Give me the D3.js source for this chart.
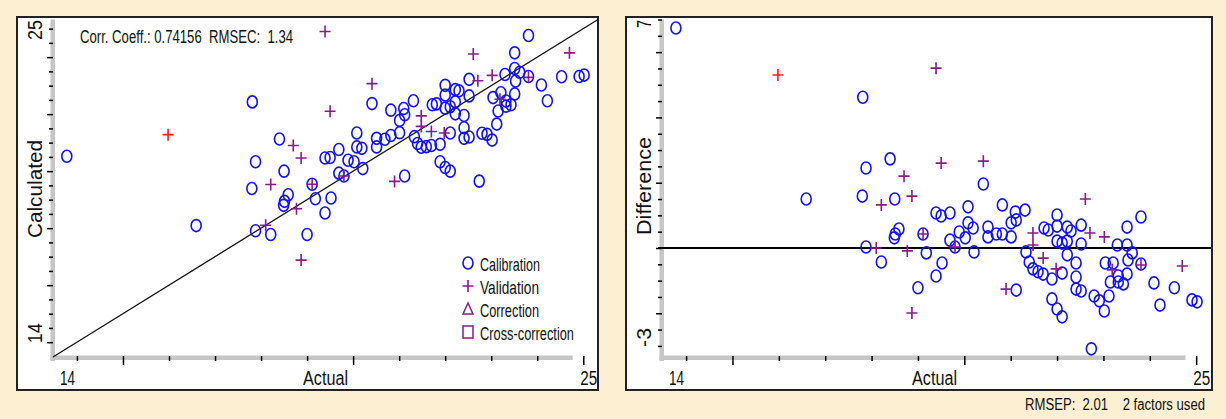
<!DOCTYPE html>
<html><head><meta charset="utf-8">
<script src="https://cdn.jsdelivr.net/npm/d3@7"></script>
<style>html,body{margin:0;padding:0;background:#FDF0D2;} svg{display:block} text{white-space:pre}</style>
</head><body><svg id="c" width="1226" height="419"></svg>
<script>
// ---------------- DATA ----------------
const calActual = [13.78,17.81,18.40,17.88,16.59,17.80,18.50,20.41,19.39,19.50,19.69,20.08,20.82,21.10,21.31,18.59,18.51,18.49,19.11,19.89,
  20.08,20.19,20.02,19.69,20.51,20.51,20.69,20.82,21.01,21.01,21.12,17.88,18.21,19.18,19.52,19.39,19.00,19.80,20.21,21.33,
  21.40,21.12,22.00,21.72,21.81,22.00,22.22,22.30,22.52,22.00,22.11,22.22,22.52,23.51,23.81,23.30,23.51,21.48,21.59,21.70,
  21.89,22.11,22.22,22.41,22.41,22.41,22.52,21.89,22.00,22.11,22.74,22.80,22.91,23.02,23.12,23.15,23.04,23.21,23.32,23.32,
  23.43,23.51,23.53,23.62,23.81,24.09,24.53,24.22,24.91,25.02];
const calCalculated = [20.52,22.43,21.13,20.33,18.09,19.39,20.00,22.37,20.46,20.48,20.76,21.34,22.14,22.20,22.47,19.17,18.94,18.80,19.54,20.38,
  20.85,20.80,20.33,19.93,21.15,20.85,21.12,21.25,21.35,21.78,21.98,17.91,17.78,19.03,19.06,18.53,17.78,19.83,20.09,21.21,
  20.97,19.83,23.01,22.33,22.36,22.67,22.86,22.82,23.22,22.21,22.26,22.43,22.64,24.15,24.76,23.39,23.60,20.84,20.86,20.90,
  20.94,21.34,22.01,21.95,21.52,21.15,21.20,20.33,20.13,20.00,19.65,21.33,21.29,21.09,21.65,22.11,22.58,22.75,22.46,22.28,
  22.33,22.71,23.16,23.47,23.32,23.02,23.31,22.47,23.32,23.37];
const calDifference = [6.74,4.62,2.73,2.45,1.50,1.59,1.50,1.96,1.07,0.98,1.07,1.26,1.32,1.10,1.16,0.58,0.43,0.31,0.43,0.49,
  0.77,0.61,0.31,0.24,0.64,0.34,0.43,0.43,0.34,0.77,0.86,0.03,-0.43,-0.15,-0.46,-0.86,-1.22,0.03,-0.12,-0.12,
  -0.43,-1.29,1.01,0.61,0.55,0.67,0.64,0.52,0.70,0.21,0.15,0.21,0.12,0.64,0.95,0.09,0.09,-0.64,-0.73,-0.80,
  -0.95,-0.77,-0.21,-0.46,-0.89,-1.26,-1.32,-1.56,-1.87,-2.11,-3.09,-1.47,-1.62,-1.93,-1.47,-1.04,-0.46,-0.46,-0.86,-1.04,
  -1.10,-0.80,-0.37,-0.15,-0.49,-1.07,-1.22,-1.75,-1.59,-1.65];

const valActual = [19.39,18.70,18.87,18.21,19.50,20.41,19.11,18.10,18.77,18.87,19.80,20.90,22.61,21.48,21.48,21.70,21.98,22.71,23.02,23.19,23.81,24.70];
const valCalculated = [24.90,20.90,20.46,19.53,22.10,23.07,19.54,18.10,18.68,16.88,19.83,19.64,24.11,21.94,21.57,21.39,21.34,23.17,23.36,22.52,23.29,24.15];
const valDifference = [5.51,2.20,1.59,1.32,2.60,2.66,0.43,0.00,-0.09,-1.99,0.03,-1.26,1.50,0.46,0.09,-0.31,-0.64,0.46,0.34,-0.67,-0.52,-0.55];

const outActual = [15.98];
const outCalculated = [21.28];
const outDifference = [5.30];

const legendLabels = ["Calibration","Validation","Correction","Cross-correction"];
const xTickValues = d3.range(14, 26, 1);
const xMajorTicks = [15, 20, 25];
const yLeftTickValues = d3.range(14, 25.001, 0.5);
const yLeftMajorTicks = [14, 16, 18, 20, 22, 24];
const yRightTickValues = d3.range(-3, 7.001, 0.5);
const yRightMajorTicks = [-2, 0, 2, 4, 6];
const xTickLabels = ["14", "25"];
const yLeftTickLabels = ["14", "25"];
const yRightTickLabels = ["-3", "7"];
const statsText = "Corr. Coeff.: 0.74156  RMSEC:  1.34";
const footerText = "RMSEP:  2.01    2 factors used";

// ---------------- DRAWING ----------------
const svg = d3.select("#c");
const FONT = "'Liberation Sans', Arial, sans-serif";
const BLUE = "#1010ff", PURPLE = "#8a1a8a", RED = "#ff1a1a";

svg.append("rect").attr("width",1226).attr("height",419).attr("fill","#FDF0D2");

function txt(g, s, x, y, len, size, anchor, rotate) {
  const t = g.append("text")
    .attr("font-family", FONT).attr("font-size", size).attr("fill", "#111")
    .attr("text-anchor", anchor || "start")
    .attr("xml:space", "preserve")
    .attr("textLength", len).attr("lengthAdjust", "spacingAndGlyphs")
    .text(s);
  if (rotate) t.attr("transform", `translate(${x},${y}) rotate(-90)`);
  else t.attr("x", x).attr("y", y);
  return t;
}

function ellipse(g, cx, cy, color) {
  g.append("ellipse").attr("cx", cx).attr("cy", cy).attr("rx", 5).attr("ry", 6)
    .attr("fill", "none").attr("stroke", color).attr("stroke-width", 1.6);
}
function plus(g, cx, cy, color) {
  g.append("path").attr("d", `M${cx-5.5},${cy}H${cx+5.5}M${cx},${cy-6}V${cy+6}`)
    .attr("fill", "none").attr("stroke", color).attr("stroke-width", 1.6);
}

function panel(cfg) {
  const g = svg.append("g");
  const f = cfg.frame, p = cfg.plot;
  g.append("rect").attr("x", f.x).attr("y", f.y).attr("width", f.w).attr("height", f.h)
    .attr("fill", "#fff").attr("stroke", "#222").attr("stroke-width", 2);

  const x = d3.scaleLinear().domain([13.48, 25.32]).range([p.l, p.r]);
  const y = d3.scaleLinear().domain(cfg.yDomain).range([p.b, p.t]);

  // gray axis bands
  g.append("rect").attr("x", p.l - 2.5).attr("y", p.t).attr("width", 4.5).attr("height", p.b - p.t + 4)
    .attr("fill", "#c6c6c6");
  g.append("rect").attr("x", p.l - 2.5).attr("y", p.b - 1.5).attr("width", x(24.77) - p.l + 2.5).attr("height", 4.5)
    .attr("fill", "#c6c6c6");

  // axes ticks
  function styleAxis(sel) {
    sel.select(".domain").remove();
    sel.selectAll(".tick line").attr("stroke", "#000").attr("stroke-width", 1.5);
    sel.selectAll(".tick text").remove();
  }
  g.append("g").attr("transform", `translate(0,${p.b - 1})`)
    .call(d3.axisBottom(x).tickValues(xTickValues.filter(v => !xMajorTicks.includes(v))).tickSize(5).tickSizeOuter(0))
    .call(styleAxis);
  g.append("g").attr("transform", `translate(0,${p.b - 1})`)
    .call(d3.axisBottom(x).tickValues(xMajorTicks).tickSize(9).tickSizeOuter(0))
    .call(styleAxis);
  g.append("g").attr("transform", `translate(${p.l},0)`)
    .call(d3.axisLeft(y).tickValues(cfg.yTicks.filter(v => !cfg.yMajor.includes(v))).tickSize(4).tickSizeOuter(0))
    .call(styleAxis);
  g.append("g").attr("transform", `translate(${p.l},0)`)
    .call(d3.axisLeft(y).tickValues(cfg.yMajor).tickSize(6).tickSizeOuter(0))
    .call(styleAxis);

  // tick labels
  txt(g, xTickLabels[0], x(14) - 17, 385, 15, 20, "start");
  txt(g, xTickLabels[1], x(25) + 14, 385, 17, 20, "end");
  txt(g, cfg.yLabels[0], p.l - 11, y(cfg.yDomainLabelVals[0]) + 1, cfg.yLabelLens[0], 20, "start", true);
  txt(g, cfg.yLabels[1], p.l - 11, p.t + 0.5, cfg.yLabelLens[1], 20, "end", true);

  // axis titles
  txt(g, "Actual", p.l + 250, 385, 45, 20, "start");
  txt(g, cfg.yTitle, p.l - 11, cfg.yTitleY, cfg.yTitleLen, 20, "middle", true);

  cfg.extra(g, x, y);

  const pts = g.append("g");
  cfg.cal.forEach(d => ellipse(pts, x(d[0]), y(d[1]), BLUE));
  cfg.val.forEach(d => plus(pts, x(d[0]), y(d[1]), PURPLE));
  cfg.out.forEach(d => plus(pts, x(d[0]), y(d[1]), RED));
  return g;
}

// Left panel: Calculated vs Actual
panel({
  frame: {x: 17, y: 17, w: 581, h: 373},
  plot: {l: 53, r: 598, t: 19.5, b: 357},
  yDomain: [13.48, 25.32],
  yTicks: yLeftTickValues, yMajor: yLeftMajorTicks,
  yLabels: yLeftTickLabels, yDomainLabelVals: [14, 25], yLabelLens: [20, 20],
  yTitle: "Calculated", yTitleY: 189, yTitleLen: 98,
  cal: calActual.map((a, i) => [a, calCalculated[i]]),
  val: valActual.map((a, i) => [a, valCalculated[i]]),
  out: outActual.map((a, i) => [a, outCalculated[i]]),
  extra: (g, x, y) => {
    g.append("line").attr("x1", x(13.48)).attr("y1", y(13.48)).attr("x2", x(25.32)).attr("y2", y(25.32))
      .attr("stroke", "#111").attr("stroke-width", 1.3);
    txt(g, statsText, 80, 43, 213, 18, "start");
    // legend
    const lg = g.append("g");
    const rows = [263, 286, 309, 332];
    ellipse(lg, 468, rows[0], BLUE);
    plus(lg, 468, rows[1], PURPLE);
    lg.append("path").attr("d", `M463,${rows[2]+5}L468,${rows[2]-6}L473,${rows[2]+5}Z`)
      .attr("fill", "none").attr("stroke", PURPLE).attr("stroke-width", 1.5);
    lg.append("rect").attr("x", 463).attr("y", rows[3] - 6).attr("width", 10).attr("height", 12)
      .attr("fill", "none").attr("stroke", PURPLE).attr("stroke-width", 1.5);
    const lens = [60, 59, 59, 94];
    legendLabels.forEach((s, i) => txt(lg, s, 480, rows[i] + 7.5, lens[i], 18, "start"));
  }
});

// Right panel: Difference vs Actual
panel({
  frame: {x: 626, y: 17, w: 586, h: 373},
  plot: {l: 662, r: 1211, t: 19.5, b: 357},
  yDomain: [-3.34, 7],
  yTicks: yRightTickValues, yMajor: yRightMajorTicks,
  yLabels: yRightTickLabels, yDomainLabelVals: [-3, 7], yLabelLens: [19, 8],
  yTitle: "Difference", yTitleY: 186, yTitleLen: 98,
  cal: calActual.map((a, i) => [a, calDifference[i]]),
  val: valActual.map((a, i) => [a, valDifference[i]]),
  out: outActual.map((a, i) => [a, outDifference[i]]),
  extra: (g, x, y) => {
    g.append("line").attr("x1", 658).attr("y1", y(0)).attr("x2", 1211).attr("y2", y(0))
      .attr("stroke", "#000").attr("stroke-width", 2);
  }
});

txt(svg, footerText, 1025, 410, 180, 16, "start");
</script></body></html>
